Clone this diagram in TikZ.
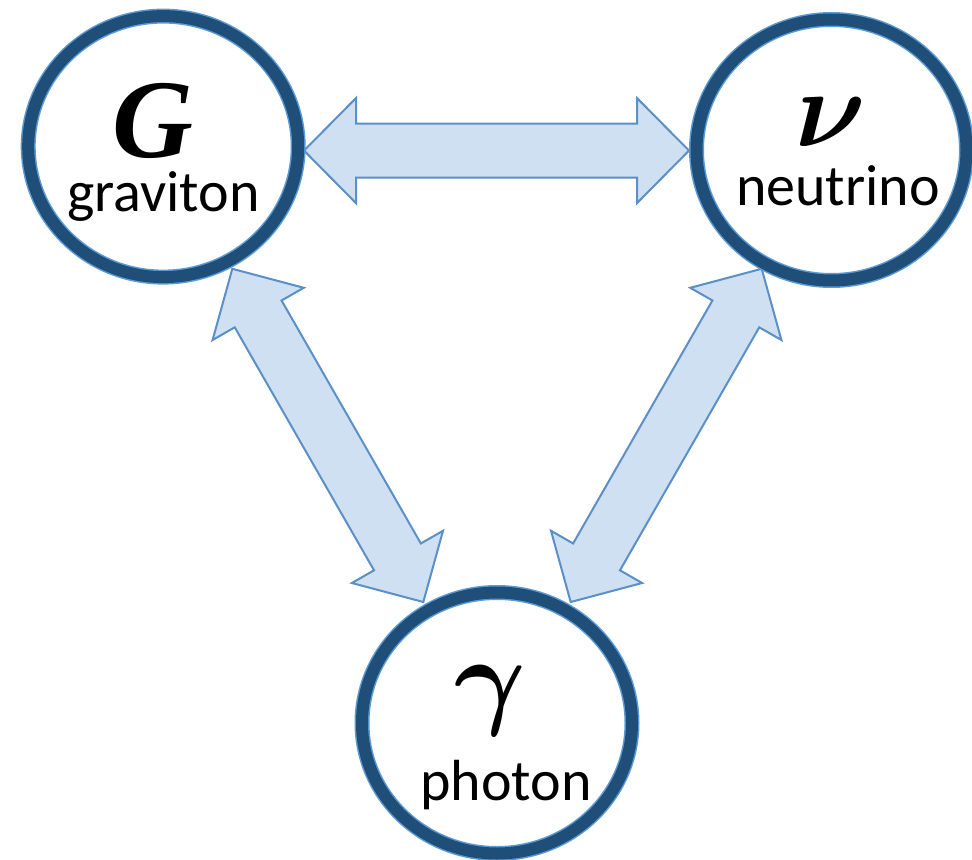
\documentclass[tikz,border=0pt]{standalone}
\usepackage{bm}
\usepackage{fontspec}
\usetikzlibrary{shapes.geometric,calc}
\newfontfamily\labelfont{Carlito}
\newfontfamily\symfont{Liberation Serif}
\definecolor{ringdark}{HTML}{1F4E79}
\definecolor{ringedge}{HTML}{5B9BD5}
\definecolor{arrowfill}{HTML}{CFE0F2}
\definecolor{arrowline}{HTML}{5A8FC8}
\tikzset{
  ring/.style={ellipse, draw=ringedge, line width=11.25pt, fill=white,
    minimum width=202.5pt, minimum height=195.75pt, inner sep=0pt,
    postaction={draw=ringdark, line width=9pt}},
  blockarrow/.style={draw=arrowline, fill=arrowfill, line width=1.5pt, line join=miter},
  symtext/.style={font=\Huge, scale=3.3, inner sep=0pt, anchor=base, text depth=0pt},
  latsym/.style={font=\symfont\bfseries\itshape\fontsize{84}{90}\selectfont, inner sep=0pt, anchor=base, text depth=0pt},
  lbl/.style={font=\labelfont\fontsize{43.5}{50}\selectfont, inner sep=0pt, anchor=base}
}
\newcommand{\bigdoublearrow}[3]{%
  \coordinate (#3a) at ($(#1)!39pt!(#2)$);
  \coordinate (#3b) at ($(#2)!39pt!(#1)$);
  \draw[blockarrow] (#1) -- ($(#3a)!39.4pt!90:(#2)$) -- ($(#3a)!20.25pt!90:(#2)$)
    -- ($(#3b)!20.25pt!-90:(#1)$) -- ($(#3b)!39.4pt!-90:(#1)$) -- (#2)
    -- ($(#3b)!39.4pt!90:(#1)$) -- ($(#3b)!20.25pt!90:(#1)$)
    -- ($(#3a)!20.25pt!-90:(#2)$) -- ($(#3a)!39.4pt!-90:(#2)$) -- cycle;}
\begin{document}
\begin{tikzpicture}[x=0.75pt,y=-0.75pt]
\useasboundingbox (0,0) rectangle (972,860);
% arrow tips
\coordinate (gn1) at (304,150.6);
\coordinate (gn2) at (689,150.6);
\coordinate (gp1) at (232.3,268.8);
\coordinate (gp2) at (423.3,602);
\coordinate (np1) at (761.7,268.8);
\coordinate (np2) at (570.7,602);
\bigdoublearrow{gn1}{gn2}{h}
\bigdoublearrow{gp1}{gp2}{l}
\bigdoublearrow{np1}{np2}{r}
% circles
\node[ring] (g) at (163.2,146.6) {};
\node[ring] (n) at (831.5,150) {};
\node[ring] (p) at (497,723) {};
% texts
\node[latsym] (gsym) at (153,157) {G};
\node[lbl] (glbl) at (163.5,211) {graviton};
\node[symtext] (nsym) at (831,146) {$\bm{\nu}$};
\node[lbl] (nlbl) at (838,205) {neutrino};
\node[symtext] (psym) at (490,714) {$\bm{\gamma}$};
\node[lbl] (plbl) at (506,800) {photon};
\end{tikzpicture}
\end{document}
